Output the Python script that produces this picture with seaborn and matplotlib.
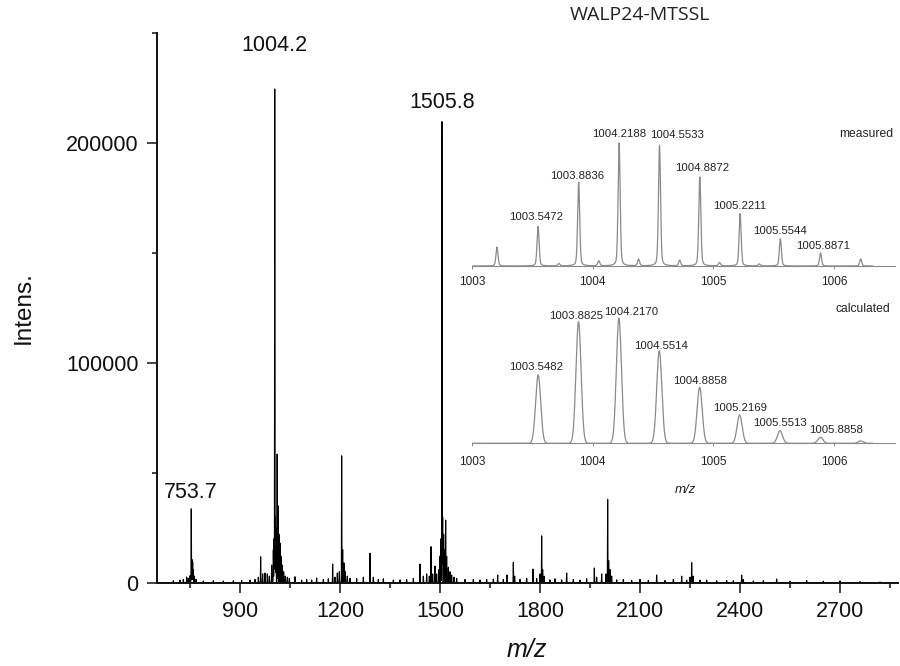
import numpy as np
import pandas as pd
import matplotlib
matplotlib.use("Agg")
import matplotlib.pyplot as plt
from matplotlib.ticker import MultipleLocator, FuncFormatter
import seaborn as sns

# ---------------- data ----------------
# main spectrum: peak list (m/z, intensity)
peak_mz = [
    700, 720, 730, 740, 745, 750, 753.7, 756, 758, 760, 763, 768, 790, 820, 850, 880,
    905, 930, 945, 955, 962, 968, 975, 982, 988, 995, 1000, 1002, 1004.2, 1006, 1008,
    1011.5, 1014, 1017, 1020, 1023, 1027, 1031, 1036, 1042, 1048, 1065, 1085, 1100,
    1115, 1130, 1150, 1165, 1178, 1185, 1192, 1198, 1205, 1208, 1212, 1216, 1222, 1230,
    1250, 1270, 1290, 1300, 1315, 1330, 1360, 1380, 1400, 1420, 1440, 1450, 1460, 1468,
    1473, 1478, 1485, 1490, 1497, 1500, 1503, 1505.8, 1508, 1511, 1514, 1517, 1520,
    1525, 1530, 1535, 1542, 1550, 1575, 1600, 1620, 1640, 1660, 1673, 1690, 1701, 1720,
    1724, 1740, 1760, 1779, 1790, 1800, 1805, 1808, 1812, 1830, 1845, 1865, 1880, 1900,
    1920, 1940, 1963, 1970, 1985, 1998, 2003, 2006, 2010, 2015, 2030, 2050, 2075, 2100,
    2125, 2150, 2175, 2200, 2225, 2240, 2250, 2255, 2259, 2280, 2300, 2330, 2360, 2380,
    2405, 2410, 2440, 2470, 2510, 2550, 2600, 2650, 2700, 2760, 2820,
]
peak_int = [
    900, 1200, 1500, 2600, 2000, 3200, 33800, 10500, 9500, 6000, 3000, 1500, 800, 900, 800, 900,
    1000, 1200, 1500, 2500, 11800, 4000, 4400, 4000, 3000, 8000, 15000, 20000, 225900, 30000, 25000,
    58500, 35000, 22000, 18000, 12000, 8000, 5000, 3000, 2500, 2000, 2700, 1200, 1500,
    1200, 2100, 1500, 1800, 8500, 2500, 4400, 5000, 57700, 15000, 9000, 5000, 3000, 2000,
    1800, 2500, 13400, 2500, 1500, 1800, 1200, 1300, 1500, 2000, 8500, 3000, 4000, 3000,
    16400, 4000, 7600, 4000, 6000, 12000, 20000, 211000, 30000, 22000, 15000, 28500, 12000,
    7000, 5000, 3500, 2500, 2000, 1500, 1500, 1200, 1500, 1600, 3500, 1500, 3500, 9300,
    3000, 1500, 2000, 6200, 2000, 4000, 21300, 6000, 3000, 1300, 1800, 1300, 4400, 1500,
    1200, 1800, 6700, 2500, 4000, 4000, 37900, 10000, 6000, 3000, 1300, 1500, 1100, 1500,
    1100, 3500, 1000, 1500, 3000, 1200, 2500, 9100, 3000, 1200, 1200, 900, 1000, 900,
    3500, 1500, 800, 900, 1700, 700, 1000, 700, 800, 500, 400,
]
main_labels = ["753.7", "1004.2", "1505.8"]
main_label_mz = [753.7, 1004.2, 1505.8]
main_label_int = [33800, 225900, 211000]

# inset: measured isotope pattern (relative intensity, %)
meas_mz = [1003.207, 1003.5472, 1003.72, 1003.8836, 1004.05, 1004.2188, 1004.38, 1004.5533,
           1004.72, 1004.8872, 1005.05, 1005.2211, 1005.38, 1005.5544, 1005.8871, 1006.22]
meas_int = [15.4, 32.2, 1.9, 68.3, 4.1, 100.0, 5.4, 98.1, 4.6, 72.4, 2.7, 42.5, 1.6, 22.2, 10.6, 5.7]
meas_labels = ["1003.5472", "1003.8836", "1004.2188", "1004.5533", "1004.8872",
               "1005.2211", "1005.5544", "1005.8871"]
meas_label_mz = [1003.5472, 1003.8836, 1004.2188, 1004.5533, 1004.8872, 1005.2211, 1005.5544, 1005.8871]
meas_label_int = [32.2, 68.3, 100.0, 98.1, 72.4, 42.5, 22.2, 10.6]

# inset: calculated isotope pattern (relative intensity, %)
calc_mz = [1003.5482, 1003.8825, 1004.2170, 1004.5514, 1004.8858, 1005.2169, 1005.5513, 1005.8858, 1006.22]
calc_int = [54.7, 97.3, 100.0, 74.1, 44.8, 22.7, 10.1, 4.8, 1.9]
calc_labels = ["1003.5482", "1003.8825", "1004.2170", "1004.5514", "1004.8858",
               "1005.2169", "1005.5513", "1005.8858"]
calc_label_mz = [1003.5482, 1003.8825, 1004.2170, 1004.5514, 1004.8858, 1005.2169, 1005.5513, 1005.8858]
calc_label_int = [54.7, 97.3, 100.0, 74.1, 44.8, 22.7, 10.1, 4.8]

main_xticks = [900, 1200, 1500, 1800, 2100, 2400, 2700]
main_yticks = [0, 100000, 200000]
inset_xticks = [1003, 1004, 1005, 1006]

# ---------------- layout / style ----------------
W, H = 900, 666
sns.set_theme(style="ticks")
plt.rcParams["font.family"] = ["Liberation Sans", "DejaVu Sans"]

fig = plt.figure(figsize=(9, 6.66), dpi=100)


def fx(px):
    return px / W


def fy(py):
    return 1 - py / H


def profile(grid, centers, heights, sigma, lor=0.0):
    c = np.asarray(centers)[:, None]
    h = np.asarray(heights)[:, None]
    d = grid[None, :] - c
    g = np.exp(-0.5 * (d / sigma) ** 2)
    if lor > 0:
        gam = sigma * 1.1775
        l = 1.0 / (1.0 + (d / gam) ** 2)
        g = (1 - lor) * g + lor * l
    return (h * g).sum(axis=0)


# main axes
ax_l, ax_r, ax_b, ax_t = 157, 898, 582.7, 33
ax = fig.add_axes([fx(ax_l), fy(ax_b), fx(ax_r - ax_l), (ax_b - ax_t) / H])
grid = np.arange(651, 2874, 0.25)
spec = profile(grid, peak_mz, peak_int, 0.45)
df_main = pd.DataFrame({"mz": grid, "I": spec})
sns.lineplot(data=df_main, x="mz", y="I", ax=ax, color="black", linewidth=0.8,
             estimator=None, sort=False)
ax.set_xlim(651, 2874)
ax.set_ylim(0, 250000)
ax.set_xticks(main_xticks)
ax.set_yticks(main_yticks)
ax.xaxis.set_minor_locator(MultipleLocator(150))
ax.yaxis.set_minor_locator(MultipleLocator(50000))
ax.yaxis.set_major_formatter(FuncFormatter(lambda v, p: f"{int(v)}"))
ax.tick_params(axis="both", which="major", direction="out", length=7.2, width=1.1,
               labelsize=15.5, pad=6, colors="#111111")
ax.tick_params(axis="both", which="minor", direction="out", length=3.6, width=1.1,
               colors="#111111")
for s in ["top", "right"]:
    ax.spines[s].set_visible(False)
for s in ["left", "bottom"]:
    ax.spines[s].set_linewidth(1.4)
    ax.spines[s].set_color("#111111")
ax.set_xlabel("")
ax.set_ylabel("")
ax.set_facecolor("none")

main_dy = [16, 40, 16]
for lab, x, y, dy in zip(main_labels, main_label_mz, main_label_int, main_dy):
    ax.annotate(lab, xy=(x, y), xytext=(0, dy), textcoords="offset pixels",
                ha="center", va="center", fontsize=15.5, color="#111111")

fig.text(fx(527), fy(650), "m/z", fontsize=18, style="italic", ha="center", va="center",
         color="#111111")
fig.text(fx(24), fy(308), "Intens.", fontsize=17.5, rotation=90, ha="center", va="center",
         color="#111111")
fig.text(fx(640), fy(15), "WALP24-MTSSL", fontsize=14, ha="center", va="center",
         color="#222222", family=["Open Sans", "DejaVu Sans"])

# inset helpers
GRAY = "#8a8a8a"
ins_l, ins_r = 472, 894.5


def make_inset(bottom_px, px_per_pct, pad):
    h_px = 110 * px_per_pct
    a = fig.add_axes([fx(ins_l), fy(bottom_px), fx(ins_r - ins_l), h_px / H])
    a.set_facecolor("none")
    a.set_xlim(1003, 1006.5)
    a.set_ylim(0, 110)
    for s in ["top", "right", "left"]:
        a.spines[s].set_visible(False)
    a.spines["bottom"].set_color(GRAY)
    a.spines["bottom"].set_linewidth(0.8)
    a.set_yticks([])
    a.set_xticks(inset_xticks)
    a.set_xticklabels([str(t) for t in inset_xticks])
    a.tick_params(axis="x", direction="out", length=2.5, width=0.7, colors=GRAY,
                  labelcolor="#222222", labelsize=8.5, pad=pad)
    a.set_xlabel("")
    a.set_ylabel("")
    return a


# measured inset
ax_m = make_inset(266, 1.23, 4.5)
g_in = np.arange(1003.0, 1006.32, 0.001)
m_prof = profile(g_in, meas_mz, meas_int, 0.0085, lor=0.3)
sns.lineplot(x=g_in, y=m_prof, ax=ax_m, color=GRAY, linewidth=0.9, estimator=None, sort=False)
meas_dx = [-2, -2, 0, 18, 2, 0, 0, 3]
meas_dy = [9, 6, 9, 10, 9, 8, 8, 7]
for lab, x, y, dx, dy in zip(meas_labels, meas_label_mz, meas_label_int, meas_dx, meas_dy):
    ax_m.annotate(lab, xy=(x, y), xytext=(dx, dy), textcoords="offset pixels",
                  ha="center", va="center", fontsize=8.2, color="#222222")
fig.text(fx(893), fy(134), "measured", fontsize=8.7, ha="right", va="center", color="#222222")

# calculated inset
ax_c = make_inset(443.3, 1.25, 6.5)
c_prof = profile(g_in, calc_mz, calc_int, 0.021)
sns.lineplot(x=g_in, y=c_prof, ax=ax_c, color=GRAY, linewidth=0.9, estimator=None, sort=False)
calc_dx = [-2, -2, 12, 2, 0, 0, 0, 16]
calc_dy = [8, 6, 6, 5, 6, 7, 8, 7]
for lab, x, y, dx, dy in zip(calc_labels, calc_label_mz, calc_label_int, calc_dx, calc_dy):
    ax_c.annotate(lab, xy=(x, y), xytext=(dx, dy), textcoords="offset pixels",
                  ha="center", va="center", fontsize=8.2, color="#222222")
fig.text(fx(890), fy(309), "calculated", fontsize=8.7, ha="right", va="center", color="#222222")
fig.text(fx(685), fy(490), "m/z", fontsize=9.5, style="italic", ha="center", va="center",
         color="#222222")

fig.savefig("out.png", dpi=100, facecolor="white")
